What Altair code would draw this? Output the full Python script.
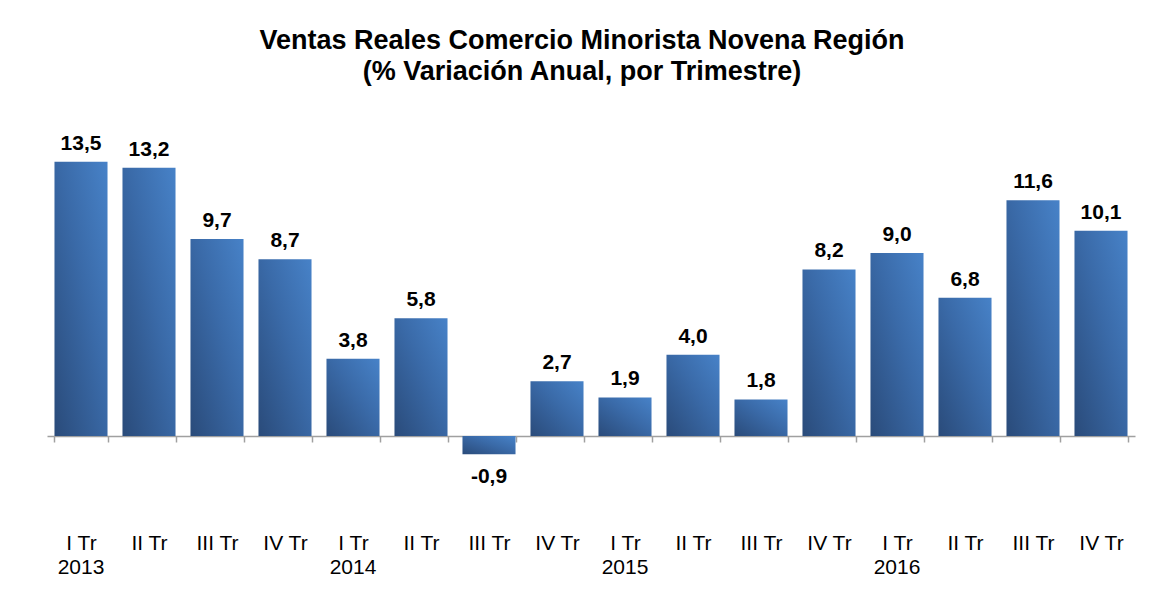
import altair as alt
import pandas as pd

quarters = ["I Tr", "II Tr", "III Tr", "IV Tr"] * 4
years = ["2013"] * 4 + ["2014"] * 4 + ["2015"] * 4 + ["2016"] * 4
values = [13.5, 13.2, 9.7, 8.7, 3.8, 5.8, -0.9, 2.7, 1.9, 4.0, 1.8, 8.2, 9.0, 6.8, 11.6, 10.1]

title_lines = ["Ventas Reales Comercio Minorista Novena Región",
               "(% Variación Anual, por Trimestre)"]

keys = [f"{q}|{y}" for q, y in zip(quarters, years)]
df = pd.DataFrame({"key": keys, "value": values})
year_df = pd.DataFrame({
    "key": [k for k, q in zip(keys, quarters) if q == "I Tr"],
    "year": [y for y, q in zip(years, quarters) if q == "I Tr"],
})

W, H = 1088, 336
px_per_unit = 20.32
y_top = H / px_per_unit
year_row = -138 / px_per_unit

x_scale = alt.Scale(paddingInner=0.22, paddingOuter=0.11)
y_scale = alt.Scale(domain=[0, y_top], nice=False, zero=False)

x_enc = alt.X(
    "key:N",
    sort=keys,
    title=None,
    scale=x_scale,
    axis=alt.Axis(
        labelExpr="isValid(datum.value) ? split(datum.value, '|')[0] : ''",
        labelAngle=0,
        labelFont="Liberation Sans",
        labelFontSize=21,
        labelColor="#000000",
        labelBaseline="top",
        labelPadding=90,
        tickBand="extent",
        tickSize=6,
        tickColor="#a0a0a0",
        domainColor="#a0a0a0",
        domainWidth=1.5,
        tickWidth=1.5,
    ),
)
y_enc = alt.Y("value:Q", axis=None, stack=None, scale=y_scale)

grad = alt.Gradient(
    gradient="linear",
    stops=[alt.GradientStop(color="#2a4b7a", offset=0),
           alt.GradientStop(color="#3a6aa8", offset=0.55),
           alt.GradientStop(color="#4782c8", offset=1)],
    x1=0, y1=1, x2=1, y2=0,
)

base = alt.Chart(df)
bars = base.mark_bar(color=grad).encode(x=x_enc, y=y_enc)

lab_fmt = "replace(replace(format(datum.value, '.1f'), '.', ','), '\u2212', '-')"
pos_labels = base.transform_filter("datum.value >= 0").transform_calculate(lab=lab_fmt).mark_text(
    font="Liberation Sans", fontSize=21, fontWeight="bold", color="#000000",
    align="center", baseline="alphabetic", dy=-12,
).encode(x=alt.X("key:N", sort=keys), y=alt.Y("value:Q", stack=None), text="lab:N")
neg_labels = base.transform_filter("datum.value < 0").transform_calculate(lab=lab_fmt).mark_text(
    font="Liberation Sans", fontSize=21, fontWeight="bold", color="#000000",
    align="center", baseline="alphabetic", dy=29,
).encode(x=alt.X("key:N", sort=keys), y=alt.Y("value:Q", stack=None), text="lab:N")

year_labels = alt.Chart(year_df).mark_text(
    font="Liberation Sans", fontSize=21, color="#000000",
    align="center", baseline="alphabetic",
).encode(x=alt.X("key:N", sort=keys), y=alt.datum(year_row), text="year:N")

chart = alt.layer(bars, pos_labels, neg_labels, year_labels).properties(
    width=W, height=H,
    padding={"left": 39, "top": 19, "right": 10, "bottom": 5},
    title=alt.TitleParams(
        text=title_lines, font="Liberation Sans", fontSize=27, fontWeight="bold",
        color="#000000", anchor="middle", lineHeight=31, offset=14, dx=-9,
    ),
).configure_view(stroke=None)

chart.save("out.html", embed_options={"renderer": "svg", "actions": False})
